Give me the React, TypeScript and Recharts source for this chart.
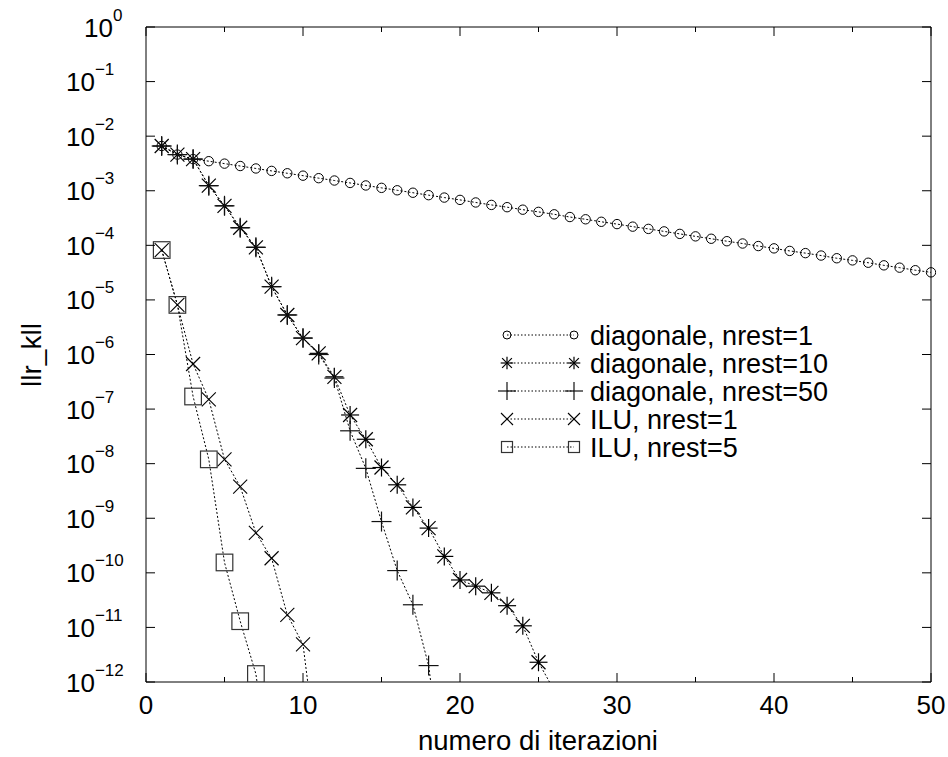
import { LineChart, Line, XAxis, YAxis, Legend } from "recharts";

const FONT = "'Liberation Sans', Arial, Helvetica, sans-serif";

const iterations = [
  1, 2, 3, 4, 5, 6, 7, 8, 9, 10, 11, 12, 13, 14, 15, 16, 17, 18, 19, 20, 21, 22, 23, 24, 25,
  26, 27, 28, 29, 30, 31, 32, 33, 34, 35, 36, 37, 38, 39, 40, 41, 42, 43, 44, 45, 46, 47, 48, 49, 50,
];

// diagonale, nrest=1
const diag1 = [
  6.6e-3, 4.6e-3, 3.8e-3, 3.48e-3, 3.14e-3, 2.84e-3, 2.56e-3, 2.31e-3, 2.09e-3, 1.89e-3,
  1.7e-3, 1.54e-3, 1.39e-3, 1.25e-3, 1.13e-3, 1.02e-3, 9.2e-4, 8.3e-4, 7.5e-4, 6.8e-4,
  6.1e-4, 5.5e-4, 5.0e-4, 4.5e-4, 4.1e-4, 3.7e-4, 3.3e-4, 3.0e-4, 2.7e-4, 2.45e-4,
  2.2e-4, 2.0e-4, 1.8e-4, 1.62e-4, 1.46e-4, 1.32e-4, 1.19e-4, 1.08e-4, 9.7e-5, 8.8e-5,
  7.9e-5, 7.2e-5, 6.5e-5, 5.8e-5, 5.3e-5, 4.8e-5, 4.3e-5, 3.9e-5, 3.5e-5, 3.2e-5,
];

// diagonale, nrest=10
const diag10 = [
  6.6e-3, 4.6e-3, 3.8e-3, 1.24e-3, 5.3e-4, 2.1e-4, 9.2e-5, 1.75e-5, 5.3e-6, 2.0e-6,
  1.05e-6, 3.9e-7, 7.8e-8, 2.8e-8, 8.5e-9, 4.1e-9, 1.58e-9, 6.6e-10, 2.0e-10, 7.4e-11,
  5.7e-11, 4.3e-11, 2.5e-11, 1.07e-11, 2.3e-12, 7e-13,
];

// diagonale, nrest=50
const diag50 = [
  6.6e-3, 4.6e-3, 3.8e-3, 1.24e-3, 5.3e-4, 2.1e-4, 9.2e-5, 1.75e-5, 5.3e-6, 2.0e-6,
  1.0e-6, 3.7e-7, 4.0e-8, 8.2e-9, 8.7e-10, 1.1e-10, 2.6e-11, 2.0e-12, 1.3e-14,
];

// ILU, nrest=1
const ilu1 = [8.2e-5, 8.1e-6, 6.7e-7, 1.5e-7, 1.2e-8, 3.8e-9, 5.4e-10, 1.85e-10, 1.7e-11, 4.9e-12, 2.5e-14];

// ILU, nrest=5
const ilu5 = [8.2e-5, 8.1e-6, 1.7e-7, 1.2e-8, 1.55e-10, 1.3e-11, 1.4e-12, 1.3e-14];

const xTicks = [0, 5, 10, 15, 20, 25, 30, 35, 40, 45, 50];
const yExponents = [0, -1, -2, -3, -4, -5, -6, -7, -8, -9, -10, -11, -12];
const yTicks = yExponents.map((e) => Math.pow(10, e));

const legendItems = [
  { kind: "circle", label: "diagonale, nrest=1" },
  { kind: "star", label: "diagonale, nrest=10" },
  { kind: "plus", label: "diagonale, nrest=50" },
  { kind: "cross", label: "ILU, nrest=1" },
  { kind: "square", label: "ILU, nrest=5" },
];

const data = iterations.map((it, i) => ({
  it,
  d1: diag1[i] ?? null,
  d10: diag10[i] ?? null,
  d50: diag50[i] ?? null,
  i1: ilu1[i] ?? null,
  i5: ilu5[i] ?? null,
}));

const Marker = ({ kind, x, y, small }: { kind: string; x: number; y: number; small?: boolean }) => {
  const s = small ? 0.7 : 1;
  if (kind === "circle") {
    return <circle cx={x} cy={y} r={small ? 4 : 4.7} fill="none" stroke="#000" strokeWidth={1} />;
  }
  if (kind === "star") {
    const a = 9 * s;
    const b = 7 * s;
    return (
      <g stroke="#000" strokeWidth={1.2}>
        <line x1={x - a} y1={y} x2={x + a} y2={y} />
        <line x1={x} y1={y - a} x2={x} y2={y + a} />
        <line x1={x - b} y1={y - b} x2={x + b} y2={y + b} />
        <line x1={x - b} y1={y + b} x2={x + b} y2={y - b} />
        {!small && <circle cx={x} cy={y} r={1.5} fill="#000" stroke="none" />}
      </g>
    );
  }
  if (kind === "plus") {
    const a = small ? 9 : 10;
    return (
      <g stroke="#111" strokeWidth={1.2}>
        <line x1={x - a} y1={y} x2={x + a} y2={y} />
        <line x1={x} y1={y - a} x2={x} y2={y + a} />
      </g>
    );
  }
  if (kind === "cross") {
    const b = small ? 6 : 7;
    return (
      <g stroke="#000" strokeWidth={1.1}>
        <line x1={x - b} y1={y - b} x2={x + b} y2={y + b} />
        <line x1={x - b} y1={y + b} x2={x + b} y2={y - b} />
      </g>
    );
  }
  const h = small ? 5.5 : 8.3;
  return <rect x={x - h} y={y - h} width={2 * h} height={2 * h} fill="none" stroke="#333" strokeWidth={1.2} />;
};

const makeDot = (kind: string) => (props: any) => {
  const { cx, cy, value, index } = props;
  if (cx == null || cy == null || value == null || value < 1e-12) {
    return <g key={`${kind}-${index}`} />;
  }
  return (
    <g key={`${kind}-${index}`}>
      <Marker kind={kind} x={cx} y={cy} />
    </g>
  );
};

const BottomTick = (props: any) => {
  const { x, y, payload } = props;
  const major = payload.value % 10 === 0;
  return (
    <g>
      <line x1={x} y1={y} x2={x} y2={y - (major ? 9 : 5)} stroke="#000" />
      {major && (
        <text x={x} y={y + 32} textAnchor="middle" fontSize={26} fontFamily={FONT} fill="#000">
          {payload.value}
        </text>
      )}
    </g>
  );
};

const TopTick = (props: any) => {
  const { x, y, payload } = props;
  const major = payload.value % 10 === 0;
  return <line x1={x} y1={y} x2={x} y2={y + (major ? 9 : 5)} stroke="#000" />;
};

const LeftTick = (props: any) => {
  const { x, y, payload } = props;
  const e = Math.round(Math.log10(payload.value));
  const sx = e === 0 ? 84 : 66;
  return (
    <g>
      <line x1={x} y1={y} x2={x + 9} y2={y} stroke="#000" />
      <text x={sx} y={y + 9.5} fontSize={26} fontFamily={FONT} fill="#000">
        10
        <tspan dy={-16} fontSize={17}>
          {e === 0 ? "0" : "\u2212" + Math.abs(e)}
        </tspan>
      </text>
    </g>
  );
};

const RightTick = (props: any) => {
  const { x, y } = props;
  return <line x1={x} y1={y} x2={x - 9} y2={y} stroke="#000" />;
};

const renderLegend = () => (
  <svg width={370} height={150}>
    {legendItems.map((item, i) => {
      const cy = 20 + 28 * i;
      return (
        <g key={item.kind}>
          <line x1={17} y1={cy} x2={84} y2={cy} stroke="#000" strokeWidth={1} strokeDasharray="1.5 2" />
          <Marker kind={item.kind} x={17} y={cy} small />
          <Marker kind={item.kind} x={84} y={cy} small />
          <text x={100} y={cy + 9.5} fontSize={27} fontFamily={FONT} fill="#000">
            {item.label}
          </text>
        </g>
      );
    })}
  </svg>
);

export default function App() {
  return (
    <div style={{ width: 948, height: 757, background: "#fff" }}>
      <style>{"body{margin:0}"}</style>
      <LineChart width={948} height={757} data={data} margin={{ top: 0, right: 0, bottom: 0, left: 0 }}>
        <XAxis
          dataKey="it"
          type="number"
          domain={[0, 50]}
          ticks={xTicks}
          height={75}
          tickSize={0}
          tickMargin={0}
          tick={<BottomTick />}
          axisLine={{ stroke: "#000" }}
          tickLine={false}
          allowDataOverflow
          label={{
            content: () => (
              <text x={538} y={750} textAnchor="middle" fontSize={27.5} fontFamily={FONT} fill="#000">
                numero di iterazioni
              </text>
            ),
          }}
        />
        <XAxis
          xAxisId="top"
          orientation="top"
          dataKey="it"
          type="number"
          domain={[0, 50]}
          ticks={xTicks}
          height={27}
          tickSize={0}
          tickMargin={0}
          tick={<TopTick />}
          axisLine={{ stroke: "#000" }}
          tickLine={false}
          allowDataOverflow
        />
        <YAxis
          scale="log"
          type="number"
          domain={[1e-12, 1]}
          ticks={yTicks}
          width={146}
          tickSize={0}
          tickMargin={0}
          tick={<LeftTick />}
          axisLine={{ stroke: "#000" }}
          tickLine={false}
          allowDataOverflow
          interval={0}
          label={{
            content: () => (
              <text
                x={41}
                y={355}
                transform="rotate(-90 41 355)"
                textAnchor="middle"
                fontSize={28}
                fontFamily={FONT}
                fill="#000"
              >
                llr_kll
              </text>
            ),
          }}
        />
        <YAxis
          yAxisId="right"
          orientation="right"
          scale="log"
          type="number"
          domain={[1e-12, 1]}
          ticks={yTicks}
          width={17}
          tickSize={0}
          tickMargin={0}
          tick={<RightTick />}
          axisLine={{ stroke: "#000" }}
          tickLine={false}
          allowDataOverflow
          interval={0}
        />
        <Legend
          layout="vertical"
          align="center"
          verticalAlign="middle"
          content={renderLegend}
          wrapperStyle={{ position: "absolute", left: 490, top: 315, width: 370, height: 150 }}
        />
        <Line
          dataKey="d1"
          stroke="#000"
          strokeWidth={1}
          strokeDasharray="2 2"
          isAnimationActive={false}
          dot={{ r: 4.7, fill: "none", stroke: "#000", strokeWidth: 1, strokeDasharray: "none", clipDot: false }}
          activeDot={false}
        />
        <Line
          dataKey="d10"
          stroke="#000"
          strokeWidth={1}
          strokeDasharray="2 2"
          isAnimationActive={false}
          dot={makeDot("star")}
          activeDot={false}
        />
        <Line
          dataKey="d50"
          stroke="#000"
          strokeWidth={1}
          strokeDasharray="2 2"
          isAnimationActive={false}
          dot={makeDot("plus")}
          activeDot={false}
        />
        <Line
          dataKey="i1"
          stroke="#000"
          strokeWidth={1}
          strokeDasharray="2 2"
          isAnimationActive={false}
          dot={makeDot("cross")}
          activeDot={false}
        />
        <Line
          dataKey="i5"
          stroke="#000"
          strokeWidth={1}
          strokeDasharray="2 2"
          isAnimationActive={false}
          dot={makeDot("square")}
          activeDot={false}
        />
      </LineChart>
    </div>
  );
}
